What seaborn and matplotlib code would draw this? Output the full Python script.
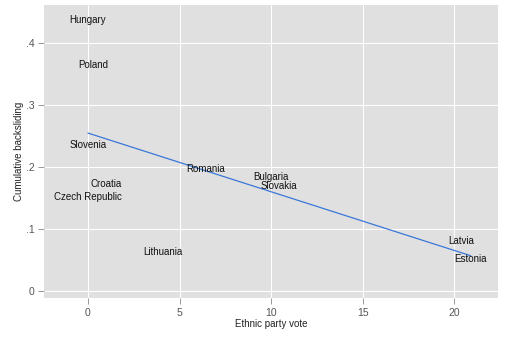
import matplotlib
matplotlib.use("Agg")
import matplotlib.pyplot as plt
import seaborn as sns
import pandas as pd

countries = ["Hungary", "Poland", "Slovenia", "Croatia", "Czech Republic", "Lithuania",
             "Romania", "Bulgaria", "Slovakia", "Latvia", "Estonia"]
ethnic_vote = [0.0, 0.3, 0.0, 1.0, 0.0, 4.1, 6.4, 10.0, 10.4, 20.4, 20.9]
backsliding = [0.437, 0.365, 0.235, 0.173, 0.152, 0.063, 0.197, 0.184, 0.169, 0.081, 0.052]
xticks = [0, 5, 10, 15, 20]
yticks = [0, 0.1, 0.2, 0.3, 0.4]
ytick_labels = ["0", ".1", ".2", ".3", ".4"]

df = pd.DataFrame({"country": countries, "x": ethnic_vote, "y": backsliding})

sns.set_style("white")
plt.rcParams["font.family"] = ["Liberation Sans", "DejaVu Sans"]

fig = plt.figure(figsize=(5.12, 3.41), dpi=100)
ax = fig.add_axes([0.086, 0.126, 0.887, 0.859])
ax.set_facecolor("#e0e0e0")

sns.regplot(data=df, x="x", y="y", ax=ax, scatter=False, ci=None, truncate=True,
            line_kws={"color": "#3a78d8", "lw": 0.9, "zorder": 3})

for c, xv, yv in zip(countries, ethnic_vote, backsliding):
    ax.text(xv, yv, c, ha="center", va="center", fontsize=7, color="#111111", zorder=4)

ax.set_xlim(-2.4, 22.4)
ax.set_ylim(-0.011, 0.461)
ax.set_xticks(xticks)
ax.set_xticklabels([str(t) for t in xticks])
ax.set_yticks(yticks)
ax.set_yticklabels(ytick_labels)
ax.grid(True, color="white", lw=0.8)
ax.set_axisbelow(True)
for s in ax.spines.values():
    s.set_visible(False)
ax.tick_params(axis="both", which="both", length=4, width=0.6, color="#888888",
               labelcolor="#555555", labelsize=7.5, direction="out", pad=3,
               bottom=True, left=True)
ax.set_xlabel("Ethnic party vote", fontsize=7, color="#222222", labelpad=1)
ax.set_ylabel("Cumulative backsliding", fontsize=7, color="#222222", labelpad=1)

fig.savefig("out.png", dpi=100, facecolor="white")
